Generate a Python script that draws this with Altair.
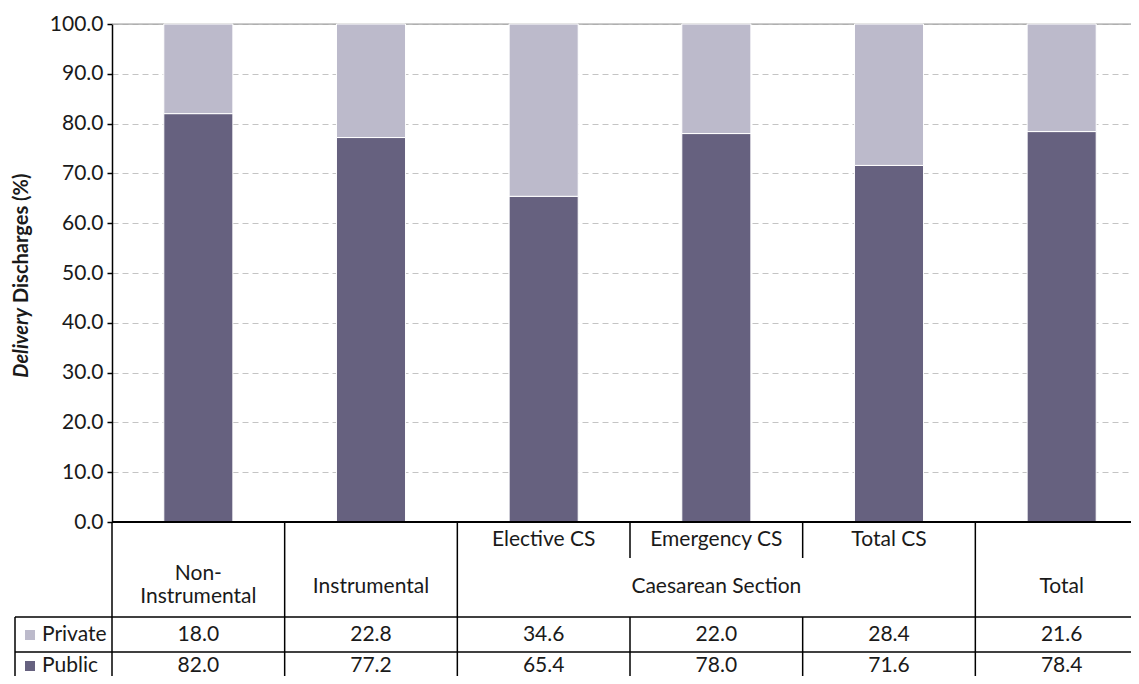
import altair as alt
import pandas as pd

# ---------------- data ----------------
categories = ["Non-Instrumental", "Instrumental", "Elective CS", "Emergency CS", "Total CS", "Total"]
header_labels = ["Non-\nInstrumental", "Instrumental", "Elective CS", "Emergency CS", "Total CS", "Total"]
is_subheader = [False, False, True, True, True, False]
group_label = "Caesarean Section"
group_center = "Emergency CS"
public = [82.0, 77.2, 65.4, 78.0, 71.6, 78.4]
private = [18.0, 22.8, 34.6, 22.0, 28.4, 21.6]
series = ["Public", "Private"]
colors = ["#66617f", "#bcbacb"]

rows = []
for i, c in enumerate(categories):
    rows.append({"cat": c, "series": "Public", "value": public[i], "ord": 0})
    rows.append({"cat": c, "series": "Private", "value": private[i], "ord": 1})
df = pd.DataFrame(rows)

hdr = pd.DataFrame({"cat": categories, "label": header_labels, "sub": is_subheader})
grp = pd.DataFrame({"cat": [group_center], "label": [group_label]})
full_bounds = pd.DataFrame({"cat": [categories[1], categories[2], categories[5]]})
split_bounds = pd.DataFrame({"cat": [categories[3], categories[4]]})
one = pd.DataFrame({"k": [0]})

FONT = "Lato"
W = 1019          # visible plot width (page must not overflow)
RANGE = 1036      # full band range (last edge runs off the page like the reference)
H = 498

xscale = alt.Scale(domain=categories, paddingInner=0, paddingOuter=0, range=[0, RANGE])
X = alt.X("cat:N", scale=xscale, axis=None)
X0 = alt.X("cat:N", scale=xscale, axis=None, bandPosition=0)

top_rule = alt.Chart(one).mark_rule(color="#9a9a9a", strokeWidth=1.2).encode(
    x=alt.value(0), x2=alt.value(RANGE), y=alt.value(0))

bars = alt.Chart(df).mark_bar(width=alt.RelativeBandSize(0.4), stroke="white", strokeWidth=1).encode(
    x=X,
    y=alt.Y("value:Q", stack="zero",
            scale=alt.Scale(domain=[0, 100], nice=False),
            axis=alt.Axis(values=list(range(0, 101, 10)), format=".1f", title=None,
                          grid=True, gridDash=[6, 4], gridColor="#c4c4c4", gridWidth=1,
                          domainColor="black", domainWidth=1.5, tickColor="black",
                          tickSize=5, tickWidth=1.5, labelFontSize=21, labelFont=FONT,
                          labelColor="#1a1a1a", labelPadding=4)),
    color=alt.Color("series:N", scale=alt.Scale(domain=series, range=colors), legend=None),
    order=alt.Order("ord:Q", sort="ascending"),
)

zero_rule = alt.Chart(one).mark_rule(color="black", strokeWidth=2).encode(
    x=alt.value(0), x2=alt.value(RANGE), y=alt.value(H))

# table lines
LINE = dict(color="black", strokeWidth=1.5)
BOT = 700
ROW1 = 593
ROW2 = 628
left_rule = alt.Chart(one).mark_rule(**LINE).encode(x=alt.value(0), y=alt.value(H), y2=alt.value(BOT))
full_rules = alt.Chart(full_bounds).mark_rule(**LINE).encode(x=X0, y=alt.value(H), y2=alt.value(BOT))
split_top = alt.Chart(split_bounds).mark_rule(**LINE).encode(x=X0, y=alt.value(H), y2=alt.value(534))
split_bot = alt.Chart(split_bounds).mark_rule(**LINE).encode(x=X0, y=alt.value(ROW1), y2=alt.value(BOT))
h1 = alt.Chart(one).mark_rule(**LINE).encode(x=alt.value(-97), x2=alt.value(RANGE), y=alt.value(ROW1))
h2 = alt.Chart(one).mark_rule(**LINE).encode(x=alt.value(-97), x2=alt.value(RANGE), y=alt.value(ROW2))
legcol = alt.Chart(one).mark_rule(**LINE).encode(x=alt.value(-97), y=alt.value(ROW1), y2=alt.value(BOT))

TXT = dict(font=FONT, fontSize=21, color="#1a1a1a", baseline="middle", align="center")
sub_txt = alt.Chart(hdr).transform_filter("datum.sub").mark_text(**TXT).encode(
    x=X, y=alt.value(516), text="label:N")
main_single = alt.Chart(hdr).transform_filter("!datum.sub && indexof(datum.label, '\\n') < 0").mark_text(**TXT).encode(
    x=X, y=alt.value(563), text="label:N")
main_multi = alt.Chart(hdr).transform_filter("!datum.sub && indexof(datum.label, '\\n') >= 0").mark_text(
    lineBreak="\n", lineHeight=23, **TXT).encode(x=X, y=alt.value(550), text="label:N")
grp_txt = alt.Chart(grp).mark_text(**TXT).encode(x=X, y=alt.value(563), text="label:N")

Y_PRIV = 611
Y_PUB = 642
priv_txt = alt.Chart(df).transform_filter("datum.series == 'Private'").mark_text(**TXT).encode(
    x=X, y=alt.value(Y_PRIV), text=alt.Text("value:Q", format=".1f"))
pub_txt = alt.Chart(df).transform_filter("datum.series == 'Public'").mark_text(**TXT).encode(
    x=X, y=alt.value(Y_PUB), text=alt.Text("value:Q", format=".1f"))

leg_df = pd.DataFrame({"series": series})
LT = dict(font=FONT, fontSize=21, color="#1a1a1a", baseline="middle", align="left")
cscale = alt.Scale(domain=series, range=colors)
sw_priv = alt.Chart(leg_df).transform_filter("datum.series == 'Private'").mark_square(size=100, opacity=1).encode(
    x=alt.value(-82), y=alt.value(Y_PRIV), color=alt.Color("series:N", scale=cscale, legend=None))
sw_pub = alt.Chart(leg_df).transform_filter("datum.series == 'Public'").mark_square(size=100, opacity=1).encode(
    x=alt.value(-82), y=alt.value(Y_PUB), color=alt.Color("series:N", scale=cscale, legend=None))
lt_priv = alt.Chart(leg_df).transform_filter("datum.series == 'Private'").mark_text(**LT).encode(
    x=alt.value(-70), y=alt.value(Y_PRIV), text="series:N")
lt_pub = alt.Chart(leg_df).transform_filter("datum.series == 'Public'").mark_text(**LT).encode(
    x=alt.value(-70), y=alt.value(Y_PUB), text="series:N")

# y title (mixed italic)
TT = dict(font=FONT, fontSize=20, fontWeight="bold", color="#1a1a1a", angle=270, baseline="middle")
t1 = alt.Chart(one).mark_text(align="right", fontStyle="italic", **TT).encode(
    x=alt.value(-90), y=alt.value(284), text=alt.value("Delivery"))
t2 = alt.Chart(one).mark_text(align="left", **TT).encode(
    x=alt.value(-90), y=alt.value(279), text=alt.value("Discharges (%)"))

chart = alt.layer(
    top_rule, bars, zero_rule, left_rule, full_rules, split_top, split_bot, h1, h2, legcol,
    sub_txt, main_single, main_multi, grp_txt, priv_txt, pub_txt, sw_priv, sw_pub, lt_priv, lt_pub, t1, t2,
).properties(
    width=W, height=H,
    padding={"left": 104, "top": 16, "right": 0, "bottom": 154},
    autosize=alt.AutoSizeParams(type="none"),
).configure_view(stroke=None).configure(background="white")

chart.save("out.html", embed_options={"renderer": "svg", "actions": False})
